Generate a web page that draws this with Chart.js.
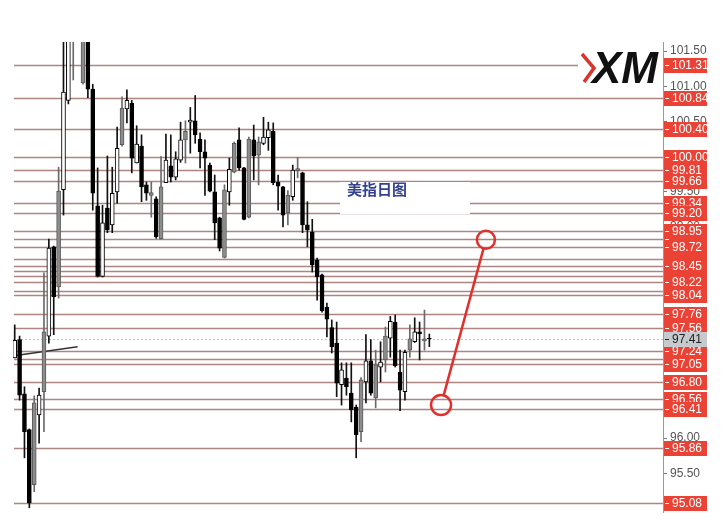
<!DOCTYPE html>
<html><head><meta charset="utf-8">
<script src="https://cdn.jsdelivr.net/npm/chart.js@4.4.1/dist/chart.umd.min.js"></script>
<style>html,body{margin:0;padding:0;background:#fff}#wrap{width:728px;height:528px}</style>
</head><body><div id="wrap"><canvas id="c" width="728" height="528"></canvas></div>
<script>
// ---- data ----
const open  = [97.14,97.40,96.63,96.12,95.34,96.33,96.66,97.45,98.72,98.15,99.53,100.80,101.80,102.00,101.05,101.80,100.96,99.30,98.30,99.27,99.03,99.50,100.17,100.68,100.76,99.91,100.15,99.60,99.45,99.40,98.83,99.63,99.87,99.71,99.95,100.24,100.49,100.51,100.25,100.07,99.88,99.50,99.13,98.57,99.50,99.78,100.24,99.84,99.14,100.24,100.02,100.19,100.27,100.36,99.64,99.57,99.20,99.43,99.80,99.77,99.03,98.93,98.53,98.32,97.86,97.57,97.35,96.76,96.85,96.64,96.44,96.09,96.80,97.10,96.57,97.01,97.11,97.42,97.65,96.94,96.66,97.25,97.37,97.51,97.38,97.42];
const high  = [97.61,97.45,96.73,96.13,96.60,96.71,98.35,98.83,98.73,99.85,101.90,102.10,102.20,102.60,102.00,101.95,101.03,99.84,99.31,100.01,99.85,100.42,100.85,100.95,100.80,100.44,100.31,99.64,99.64,99.43,100.00,100.32,100.31,100.07,100.49,100.51,100.70,100.87,100.34,100.24,99.91,99.74,99.14,99.60,99.98,100.21,100.41,99.85,100.28,100.45,100.28,100.56,100.49,100.48,99.74,99.58,99.52,99.88,99.99,99.78,99.36,99.11,98.56,98.33,97.92,97.68,97.65,97.07,97.07,97.07,96.47,96.86,97.47,97.40,97.25,97.37,97.58,97.73,97.75,97.25,97.25,97.61,97.71,97.65,97.82,97.48];
const low   = [97.14,96.54,95.72,95.01,95.24,95.93,96.09,97.35,97.47,97.99,99.17,100.75,101.09,101.80,101.03,100.84,99.24,98.29,98.29,98.92,98.92,99.34,100.15,100.48,99.77,99.91,99.36,99.38,99.14,98.84,98.83,99.63,99.64,99.67,99.92,99.91,100.05,100.19,99.84,99.45,99.50,98.82,98.66,98.56,99.31,99.77,99.81,99.10,99.13,99.67,99.60,100.17,100.09,99.60,99.24,99.00,99.03,99.38,99.70,98.92,98.72,98.36,97.96,97.79,97.44,97.21,96.59,96.47,96.61,96.23,95.72,95.95,96.50,96.61,96.43,96.80,96.94,97.15,97.01,96.39,96.54,97.15,97.36,97.11,97.25,97.30];
const close = [97.39,96.61,96.09,95.08,96.50,96.61,97.51,98.70,98.01,99.51,100.92,101.90,102.10,102.40,101.80,100.96,99.48,98.30,99.06,98.96,99.48,100.12,100.69,100.80,99.98,100.18,99.57,99.48,99.49,98.86,99.57,99.95,99.71,99.97,100.24,100.36,100.52,100.31,100.07,99.98,99.51,99.06,98.70,99.53,99.82,100.19,99.84,99.11,100.25,100.01,100.21,100.28,100.38,99.63,99.58,99.17,99.45,99.81,99.83,99.03,98.96,98.46,98.29,97.81,97.69,97.30,96.78,96.97,96.73,96.40,96.05,96.83,97.10,96.64,97.04,97.08,97.45,97.66,97.03,96.68,97.22,97.41,97.51,97.48,97.41,97.41];
// candle body kind seen in the picture: h = hollow, g = grey, b = black
const shade = ['h','b','b','b','g','h','g','h','b','g','h','h','g','h','g','b','b','b','h','b','h','h','g','h','b','h','b','b','g','b','g','h','b','h','h','g','h','b','b','b','b','b','b','g','h','g','b','b','g','b','g','h','h','b','b','b','g','h','g','b','b','b','b','b','b','b','b','h','b','b','b','g','h','b','g','h','g','h','b','b','h','g','h','b','g','b'];
const levels = [101.31,100.84,100.40,100.00,99.81,99.66,99.34,99.20,98.95,98.72,98.45,98.22,98.04,97.76,97.56,97.24,97.05,96.80,96.56,96.41,95.86,95.08];
const coveredLevels = [98.83,98.55,98.38,98.30,98.09,97.13];
const lastPrice = 97.41;
const axisTicks = [95.50,96.00,96.50,97.00,97.50,98.00,98.50,99.00,99.50,100.00,100.50,101.00,101.50];
const title = '美指日图';
const arrowFrom = [87.4, 96.47];
const arrowTo = [96.6, 98.82];
const trendFrom = [-0.15, 97.17];
const trendTo = [12.9, 97.30];

const idx = open.map((_, i) => i);

const overlay = {
  id: 'overlay',
  beforeDatasetsDraw(chart) {
    const {ctx, chartArea: a, scales: {x, y}} = chart;
    ctx.save();
    ctx.strokeStyle = '#ad8581';
    ctx.lineWidth = 1.5;
    [...coveredLevels, ...levels].forEach(v => {
      const py = Math.round(y.getPixelForValue(v)) + 0.5;
      ctx.beginPath(); ctx.moveTo(a.left + 1, py); ctx.lineTo(a.right, py); ctx.stroke();
    });
    ctx.strokeStyle = '#bdbdbd'; ctx.lineWidth = 1; ctx.setLineDash([2, 2]);
    const pp = Math.round(y.getPixelForValue(lastPrice)) + 0.5;
    ctx.beginPath(); ctx.moveTo(a.left, pp); ctx.lineTo(a.right, pp); ctx.stroke();
    ctx.setLineDash([]);
    ctx.fillStyle = '#ffffff';
    ctx.fillRect(340, 182, 130, 32);
    ctx.fillStyle = '#34428f';
    ctx.font = 'bold 15px "Noto Sans CJK SC"';
    ctx.textBaseline = 'middle'; ctx.textAlign = 'left';
    ctx.fillText(title, 347, 189);
    ctx.fillStyle = '#ffffff';
    ctx.fillRect(578, 44, 85, 44);
    ctx.fillStyle = '#111';
    ctx.font = 'italic bold 44px "Liberation Sans"';
    ctx.textBaseline = 'alphabetic';
    ctx.fillText('XM', 592, 83);
    ctx.strokeStyle = '#d8352c'; ctx.lineWidth = 3.5;
    ctx.beginPath(); ctx.moveTo(582, 54); ctx.lineTo(594, 68); ctx.lineTo(584, 82); ctx.stroke();
    ctx.strokeStyle = '#333'; ctx.lineWidth = 1.5;
    ctx.beginPath();
    ctx.moveTo(x.getPixelForValue(trendFrom[0]), y.getPixelForValue(trendFrom[1]));
    ctx.lineTo(x.getPixelForValue(trendTo[0]), y.getPixelForValue(trendTo[1]));
    ctx.stroke();
    ctx.restore();
  },
  afterDraw(chart) {
    const {ctx, chartArea: a, scales: {x, y}} = chart;
    ctx.save();
    const x1 = x.getPixelForValue(arrowFrom[0]), y1 = y.getPixelForValue(arrowFrom[1]);
    const x2 = x.getPixelForValue(arrowTo[0]), y2 = y.getPixelForValue(arrowTo[1]);
    const r1 = 10, r2 = 9;
    const dx = x2 - x1, dy = y2 - y1, d = Math.hypot(dx, dy);
    ctx.strokeStyle = '#e0302c'; ctx.lineWidth = 2.5;
    ctx.beginPath(); ctx.arc(x1, y1, r1, 0, Math.PI * 2); ctx.stroke();
    ctx.beginPath(); ctx.arc(x2, y2, r2, 0, Math.PI * 2); ctx.stroke();
    ctx.beginPath();
    ctx.moveTo(x1 + dx / d * r1, y1 + dy / d * r1);
    ctx.lineTo(x2 - dx / d * r2, y2 - dy / d * r2);
    ctx.stroke();
    ctx.font = '12px "Liberation Sans"';
    ctx.textBaseline = 'middle'; ctx.textAlign = 'left';
    const box = (v, fill, col, withText) => {
      const py = Math.round(y.getPixelForValue(v));
      ctx.fillStyle = fill;
      ctx.fillRect(a.right + 1, py - 7, 43, 15);
      ctx.fillStyle = col;
      ctx.fillRect(a.right + 2, py, 4, 1);
      if (withText) ctx.fillText(v.toFixed(2), a.right + 9, py + 1);
    };
    coveredLevels.forEach(v => box(v, '#ea4335', '#fff', false));
    levels.forEach(v => box(v, '#ea4335', '#fff', true));
    box(lastPrice, '#c6cace', '#222', true);
    ctx.restore();
  }
};

new Chart(document.getElementById('c').getContext('2d'), {
  type: 'bar',
  data: {
    datasets: [
      {
        label: 'wick',
        data: idx.map(i => ({x: i, y: [low[i], high[i]]})),
        backgroundColor: idx.map(i => shade[i] === 'g' ? '#6a6a6a' : '#111'),
        barThickness: 1, grouped: false, order: 2
      },
      {
        label: 'body',
        data: idx.map(i => ({x: i, y: [open[i], close[i]]})),
        backgroundColor: idx.map(i => shade[i] === 'g' ? '#8c8c8c' : (shade[i] === 'h' ? '#ffffff' : '#000000')),
        borderColor: idx.map(i => shade[i] === 'g' ? '#5a5a5a' : '#000'),
        borderWidth: 1, borderSkipped: false,
        barThickness: 4, grouped: false, order: 1
      }
    ]
  },
  options: {
    responsive: false, animation: false, devicePixelRatio: 1,
    layout: {padding: {left: 13, top: 42, bottom: 16, right: 0}},
    plugins: {legend: {display: false}, tooltip: {enabled: false}},
    scales: {
      x: {type: 'linear', min: -0.35, max: 132.9, display: false, offset: false},
      y: {
        type: 'linear', position: 'right', min: 94.95, max: 101.63,
        afterBuildTicks: s => { s.ticks = axisTicks.map(v => ({value: v})); },
        afterFit: s => { s.width = 65; },
        ticks: {callback: v => Number(v).toFixed(2), color: '#555', font: {family: 'Liberation Sans', size: 12}, padding: 3, autoSkip: false},
        grid: {drawOnChartArea: false, drawTicks: true, tickLength: 4, color: '#777'},
        border: {display: true, color: '#999', width: 1}
      }
    }
  },
  plugins: [overlay]
});
</script>
</body></html>
